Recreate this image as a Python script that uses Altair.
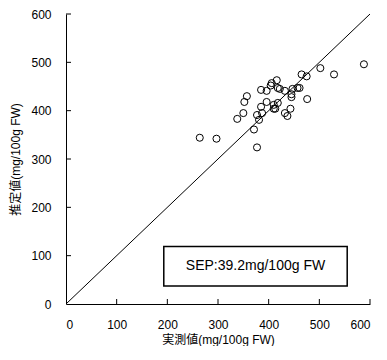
import altair as alt
import pandas as pd

measured = [264, 297, 338, 350, 352, 357, 371, 377, 377, 381, 385, 387, 385, 396, 396,
            406, 404, 410, 410, 413, 418, 416, 418, 422, 432, 432, 437, 443, 445, 445,
            447, 457, 461, 465, 475, 476, 502, 529, 588]
estimated = [344, 342, 383, 395, 418, 430, 361, 324, 391, 381, 408, 395, 443, 441, 418,
             457, 452, 412, 404, 404, 416, 463, 447, 445, 441, 395, 389, 404, 434, 428,
             445, 447, 447, 475, 471, 424, 488, 475, 496]
tick_values = [0, 100, 200, 300, 400, 500, 600]
sep_label = "SEP:39.2mg/100g FW"
x_title = "実測値(mg/100g FW)"
y_title = "推定値(mg/100g FW)"

FONT = "Liberation Sans, Arial, Noto Sans CJK JP"
W, H = 304, 290

pts = pd.DataFrame({"x": measured, "y": estimated})
diag = pd.DataFrame({"x": [0, 600], "y": [0, 600]})
ticks = pd.DataFrame({"v": tick_values[1:]})
box = pd.DataFrame({"x": [193], "x2": [555], "y": [37], "y2": [119], "tx": [374], "ty": [78], "t": [sep_label]})

xs = alt.Scale(domain=[0, 600], nice=False)
ys = alt.Scale(domain=[0, 600], nice=False)

xaxis = alt.Axis(title=x_title, values=tick_values, tickSize=0, labelPadding=15, grid=False,
                 domainColor="black", labelColor="black", titleColor="black",
                 labelFontSize=12, titleFontSize=12, titleFontWeight="normal",
                 labelFont=FONT, titleFont=FONT, titlePadding=4)
yaxis = alt.Axis(title=y_title, values=tick_values, tickSize=0, labelPadding=15, grid=False,
                 domainColor="black", labelColor="black", titleColor="black",
                 labelFontSize=12, titleFontSize=12, titleFontWeight="normal",
                 labelFont=FONT, titleFont=FONT, titlePadding=8)

base_axes = alt.Chart(diag).mark_line(color="black", strokeWidth=1, clip=True).encode(
    x=alt.X("x:Q", scale=xs, axis=xaxis),
    y=alt.Y("y:Q", scale=ys, axis=yaxis),
)

points = alt.Chart(pts).mark_point(shape="circle", size=50, filled=False, color="black",
                                   strokeWidth=1, opacity=1).encode(
    x=alt.X("x:Q", scale=xs), y=alt.Y("y:Q", scale=ys))

xticks = alt.Chart(ticks).mark_rule(color="black", strokeWidth=1).encode(
    x=alt.X("v:Q", scale=xs), y=alt.value(H), y2=alt.value(H - 5))
yticks = alt.Chart(ticks).mark_rule(color="black", strokeWidth=1).encode(
    y=alt.Y("v:Q", scale=ys), x=alt.value(0), x2=alt.value(5))

rect = alt.Chart(box).mark_rect(fill="white", stroke="black", strokeWidth=1.5).encode(
    x=alt.X("x:Q", scale=xs), x2="x2:Q", y=alt.Y("y:Q", scale=ys), y2="y2:Q")
text = alt.Chart(box).mark_text(font=FONT, fontSize=14, color="black").encode(
    x=alt.X("tx:Q", scale=xs), y=alt.Y("ty:Q", scale=ys), text="t:N")

chart = alt.layer(base_axes, xticks, yticks, points, rect, text).properties(
    width=W, height=H,
    autosize=alt.AutoSizeParams(type="none"),
    padding={"left": 58, "top": 6, "right": 9, "bottom": 42},
).configure_view(stroke=None)

chart.save("out.html", embed_options={"renderer": "svg", "actions": False})
